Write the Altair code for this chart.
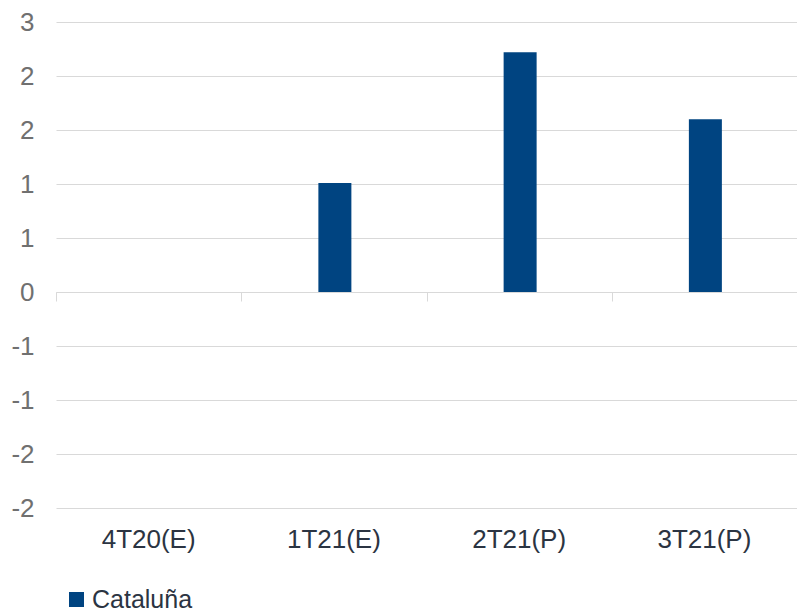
import altair as alt
import pandas as pd

categories = ["4T20(E)", "1T21(E)", "2T21(P)", "3T21(P)"]
values = [0.0, 1.01, 2.22, 1.60]
series_name = "Cataluña"
y_ticks = [-2, -1.5, -1, -0.5, 0, 0.5, 1, 1.5, 2, 2.5]

df = pd.DataFrame({
    "periodo": categories,
    "valor": values,
    "serie": [series_name] * len(categories),
})

FONT = "Liberation Sans"
BAR = "#004481"
GRID = "#d9d9d9"

x_scale = alt.Scale(domain=categories, paddingInner=0, paddingOuter=0)
y_scale = alt.Scale(domain=[-2, 2.5], nice=False, zero=False)

bars = alt.Chart(df).mark_bar(size=33, xOffset=1).encode(
    x=alt.X("periodo:N", sort=categories, scale=x_scale,
            axis=alt.Axis(title=None, orient="bottom", domain=False, ticks=False,
                          labelAngle=0, labelFont=FONT, labelFontSize=26,
                          labelColor="#2b3442", labelPadding=18)),
    y=alt.Y("valor:Q", scale=y_scale,
            axis=alt.Axis(title=None, values=y_ticks, grid=True, gridColor=GRID,
                          gridWidth=1, domain=False, ticks=False,
                          labelExpr="datum.value >= 0 ? round(datum.value) : -round(-datum.value)",
                          labelFont=FONT, labelFontSize=26, labelColor="#707070",
                          labelPadding=22)),
    color=alt.Color("serie:N", scale=alt.Scale(range=[BAR]),
                    legend=alt.Legend(title=None, orient="none", legendX=8, legendY=565,
                                      symbolType="square", symbolSize=225,
                                      symbolStrokeWidth=0, labelFont=FONT,
                                      labelFontSize=25, labelColor="#2b3442",
                                      labelOffset=3, padding=0)),
)

zero_axis = alt.Chart(df).mark_point(opacity=0).encode(
    x=alt.X("periodo:N", sort=categories, scale=x_scale,
            axis=alt.Axis(title=None, orient="bottom", offset=-216, labels=False,
                          domain=True, domainColor=GRID, domainWidth=1,
                          ticks=True, tickBand="extent", tickColor=GRID,
                          tickSize=9, tickWidth=1, grid=False)),
)

chart = alt.layer(bars, zero_axis).resolve_axis(x="independent").properties(
    width=741,
    height=486,
    autosize=alt.AutoSizeParams(type="none"),
    padding={"left": 56, "top": 22, "right": 0, "bottom": 104},
    background="white",
).configure_view(stroke=None)

chart.save("out.html", embed_options={"renderer": "svg", "actions": False})
